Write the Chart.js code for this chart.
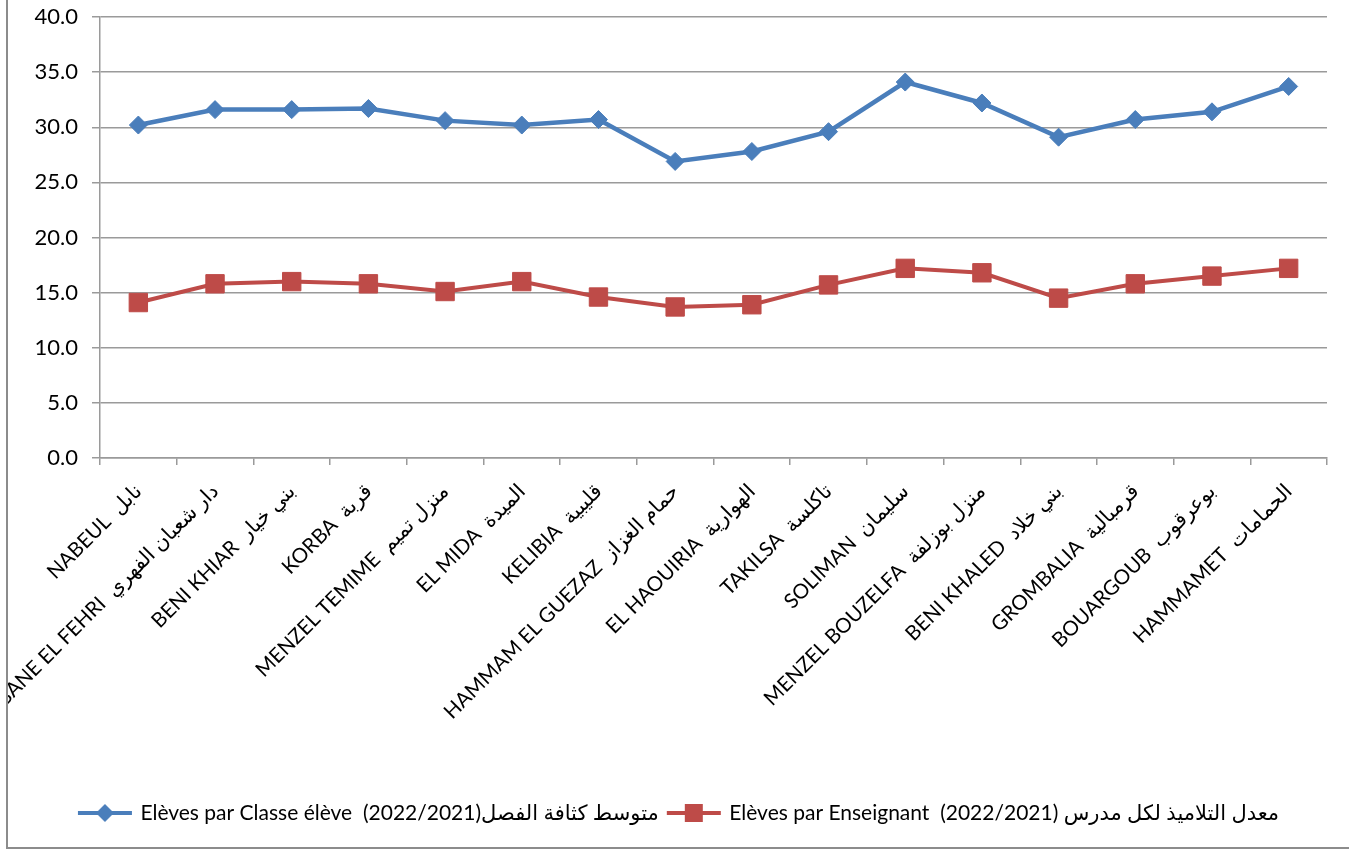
<!DOCTYPE html>
<html>
<head>
<meta charset="utf-8">
<script src="https://cdn.jsdelivr.net/npm/chart.js@4.4.1/dist/chart.umd.min.js"></script>
<style>
    body { margin: 0; background: #fff; overflow: hidden; }
    #frame {
        position: absolute; left: 6px; top: 0; width: 1343px; height: 847px;
        border-left: 2px solid #8c8c8c; border-bottom: 2px solid #8c8c8c;
    }
    #frame canvas { display: block; }
</style>
</head>
<body>
<div id="frame"><canvas id="density-chart" width="1343" height="847"></canvas></div>
<script>
"use strict";

const categories = [
    "NABEUL  نابل",
    "DAR CHAABANE EL FEHRI  دار شعبان الفهري",
    "BENI KHIAR  بني خيار",
    "KORBA  قربة",
    "MENZEL TEMIME  منزل تميم",
    "EL MIDA  الميدة",
    "KELIBIA  قليبية",
    "HAMMAM EL GUEZAZ  حمام الغزاز",
    "EL HAOUIRIA  الهوارية",
    "TAKILSA  تاكلسة",
    "SOLIMAN  سليمان",
    "MENZEL BOUZELFA  منزل بوزلفة",
    "BENI KHALED  بني خلاد",
    "GROMBALIA  قرمبالية",
    "BOUARGOUB  بوعرقوب",
    "HAMMAMET  الحمامات",
];
const seriesNames = [
    "Elèves par Classe élève  (2022/2021)متوسط كثافة الفصل",
    "Elèves par Enseignant  (2022/2021) معدل التلاميذ لكل مدرس",
];
const parClasse = [30.2, 31.6, 31.6, 31.7, 30.6, 30.2, 30.7, 26.9, 27.8, 29.6, 34.1, 32.2, 29.1, 30.7, 31.4, 33.7];
const parEnseignant = [14.1, 15.8, 16.0, 15.8, 15.1, 16.0, 14.6, 13.7, 13.9, 15.7, 17.2, 16.8, 14.5, 15.8, 16.5, 17.2];
const yTicks = { min: 0, max: 40, step: 5 };

const BLUE = "#4a7ebb";
const RED = "#be4b48";
const GRID = "#9a9a9a";

// petite icone "ligne + marqueur" comme dans la legende Excel
function legendIcon(color, shape) {
    const c = document.createElement("canvas");
    c.width = 58;
    c.height = 20;
    const ctx = c.getContext("2d");
    ctx.strokeStyle = color;
    ctx.fillStyle = color;
    ctx.lineWidth = 4;
    ctx.beginPath();
    ctx.moveTo(2, 10);
    ctx.lineTo(56, 10);
    ctx.stroke();
    ctx.beginPath();
    if (shape === "diamond") {
        ctx.moveTo(29, 1);
        ctx.lineTo(38, 10);
        ctx.lineTo(29, 19);
        ctx.lineTo(20, 10);
    } else {
        ctx.rect(20, 1, 18, 18);
    }
    ctx.fill();
    return c;
}
const icons = [legendIcon(BLUE, "diamond"), legendIcon(RED, "square")];

Chart.defaults.font.family = "Lato, 'DejaVu Sans', sans-serif";
Chart.defaults.color = "#000";

const canvas_place = document.getElementById("density-chart");

var myLine = new Chart(canvas_place, {
    type: "line",
    data: {
        labels: categories,
        datasets: [
            {
                label: seriesNames[0],
                data: parClasse,
                borderColor: BLUE,
                backgroundColor: BLUE,
                borderWidth: 4.5,
                pointStyle: "rectRot",
                pointRadius: 9,
                pointBorderWidth: 1,
                tension: 0,
            },
            {
                label: seriesNames[1],
                data: parEnseignant,
                borderColor: RED,
                backgroundColor: RED,
                borderWidth: 4,
                pointStyle: "rect",
                pointRadius: 13,
                pointBorderWidth: 1,
                tension: 0,
            },
        ],
    },
    options: {
        responsive: false,
        animation: false,
        layout: {
            padding: { top: 17, right: 0, bottom: 13.5, left: 0 },
        },
        scales: {
            x: {
                offset: true,
                grid: {
                    offset: true,
                    drawOnChartArea: false,
                    drawTicks: true,
                    tickLength: 7,
                    color: GRID,
                    lineWidth: 1.5,
                },
                border: { color: GRID, width: 1.5 },
                ticks: {
                    autoSkip: false,
                    minRotation: 45,
                    maxRotation: 45,
                    padding: 14,
                    font: { size: 20.5 },
                },
                afterFit: function (scale) {
                    scale.height = 334.5;
                    scale.paddingLeft = 0;
                    scale.paddingRight = 24;
                },
            },
            y: {
                min: yTicks.min,
                max: yTicks.max,
                grid: {
                    color: GRID,
                    lineWidth: 1.5,
                    tickLength: 8,
                },
                border: { color: GRID, width: 1.5 },
                ticks: {
                    stepSize: yTicks.step,
                    padding: 14,
                    font: { size: 22 },
                    callback: function (v) {
                        return v.toFixed(1);
                    },
                },
                afterFit: function (scale) {
                    scale.width = 92;
                    scale.paddingTop = 0;
                    scale.paddingBottom = 0;
                },
            },
        },
        plugins: {
            legend: {
                position: "bottom",
                labels: {
                    usePointStyle: true,
                    pointStyleWidth: 50,
                    padding: 10,
                    font: { size: 21 },
                    generateLabels: function (chart) {
                        const items = Chart.defaults.plugins.legend.labels.generateLabels(chart);
                        items.forEach(function (item, i) {
                            item.pointStyle = icons[i];
                        });
                        return items;
                    },
                },
            },
            tooltip: { enabled: false },
        },
    },
});
</script>
</body>
</html>
